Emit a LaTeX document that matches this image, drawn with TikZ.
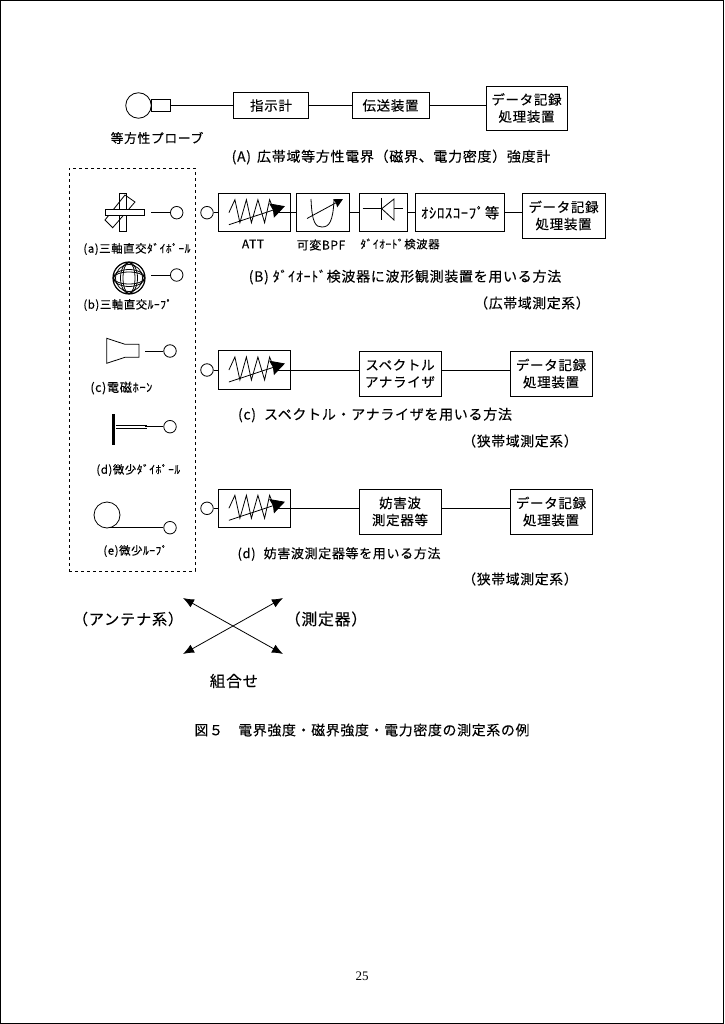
\documentclass[tikz,border=0pt]{standalone}
\usepackage{fontspec}
\setmainfont{Noto Sans CJK JP}[LetterSpace=5,FakeBold=0.15]
\newfontfamily\pagefont{Liberation Serif}
\usetikzlibrary{arrows.meta, positioning}

\begin{document}
\begin{tikzpicture}[
    x=1pt, y=-1pt,
    line width=0.8pt,
    blockbox/.style={rectangle, draw, inner sep=0pt, align=center, font=\fontsize{13.5}{17}\selectfont},
    port/.style={circle, draw, inner sep=0pt, minimum size=12.5pt},
    caption/.style={inner sep=0pt, font=\fontsize{14}{17}\selectfont},
    smalltext/.style={inner sep=0pt, font=\fontsize{11.4}{14}\selectfont},
    attsym/.pic={
        \draw (11,0) -- (17,-13) -- (22,10) -- (28.5,-13) -- (33.5,10) -- (40,-13) -- (46.7,10) -- (51.7,-13) -- (57,0);
        \draw[-{Stealth[length=14pt,width=15pt,inset=1.5pt]}] (11,12) -- (67,-6.5);
    }
 ]
\useasboundingbox (0,0) rectangle (724,1024);
\draw[line width=1pt] (0.5,0.5) rectangle (723.5,1023.5);

% isotropic probe
\node[circle, draw, inner sep=0pt, minimum size=25.5pt] (Probe) at (138.5,105.5) {};
\node[rectangle, draw, inner sep=0pt, minimum width=19.5pt, minimum height=12.5pt] (ProbeTip) at (161,105.5) {};
\node[blockbox, minimum width=75.5pt, minimum height=25.5pt] (Meter) at (271,105.5) {指示計};
\node[blockbox, minimum width=77pt, minimum height=25.5pt] (Trans) at (390.5,105.5) {伝送装置};
\node[blockbox, minimum width=81pt, minimum height=44pt] (DataA) at (526.5,108) {データ記録\\処理装置};
\draw (ProbeTip) -- (Meter);
\draw (Meter) -- (Trans);
\draw (Trans.east) -- (Trans.east -| DataA.west);
\node[caption, font=\fontsize{12.8}{15}\selectfont] (ProbeText) at (157,138) {等方性プローブ};
\node[caption] (TextA) at (391,157) {(A)\hspace{6pt}広帯域等方性電界（磁界、電力密度）強度計};

% antennas
\node[draw, dashed, inner sep=0pt, minimum width=126pt, minimum height=403pt] (AntBox) at (132,369.5) {};

\draw[fill=white] (105,220) -- (125,195) -- (135,202) -- (112.7,227.7) -- cycle;
\draw (119.3,193) rectangle (126,231.7);
\node[rectangle, draw, fill=white, inner sep=0pt, minimum width=38.3pt, minimum height=6.7pt] (DipH) at (124.8,212.3) {};
\coordinate (DipEnd) at (151,212.7);
\node[port] (PortA) at (176.7,212.7) {};
\draw (DipEnd) -- (PortA);
\node[smalltext, anchor=west] (LabelA) at (83,249) {(a)三軸直交ﾀﾞｲﾎﾟｰﾙ};

\node[circle, draw, line width=1.2pt, inner sep=0pt, minimum size=32pt] (Globe) at (129,278) {};
\draw (129,278) circle (13.5);
\foreach \r in {6,8.5} {
    \draw (129,278) ellipse ({\r} and 15.5);
    \draw (129,278) ellipse (15.5 and {\r});
}
\coordinate (GlobeEnd) at (151,275);
\node[port] (PortB) at (176.7,275) {};
\draw (GlobeEnd) -- (PortB);
\node[smalltext, anchor=west] (LabelB) at (83,305) {(b)三軸直交ﾙｰﾌﾟ};

\draw (106.7,338.3) -- (125,344.3) -- (139,344.3) -- (139,357.3) -- (125,357.3) -- (106.7,363.3) -- cycle;
\coordinate (HornEnd) at (145,351);
\node[port] (PortC) at (170,351) {};
\draw (HornEnd) -- (PortC);
\node[smalltext, anchor=west, font=\fontsize{12.3}{14}\selectfont] (LabelC) at (90,388) {(c)電磁ﾎｰﾝ};

\node[rectangle, fill=black, inner sep=0pt, minimum width=3.5pt, minimum height=31pt] (DipoleBar) at (113.5,429.5) {};
\coordinate (DipoleEnd) at (145,426.7);
\node[port] (PortD) at (170,426.7) {};
\draw (DipoleBar.east |- DipoleEnd) ++(0,-1.2) -- ++(31.5,0);
\draw (DipoleBar.east |- DipoleEnd) ++(0,1.2) -- ++(31.5,0);
\draw (DipoleEnd) -- (PortD);
\node[smalltext, anchor=west] (LabelD) at (96,470) {(d)微少ﾀﾞｲﾎﾟｰﾙ};

\node[circle, draw, inner sep=0pt, minimum size=26pt] (Loop) at (107,515) {};
\coordinate (LoopEnd) at (110,527.7);
\node[port] (PortE) at (170,527.7) {};
\draw (LoopEnd) -- (PortE);
\node[smalltext, anchor=west] (LabelE) at (103,551) {(e)微少ﾙｰﾌﾟ};

% row B
\node[port] (InB) at (207,212.7) {};
\node[blockbox, minimum width=72.4pt, minimum height=38.4pt] (AttB) at (254.5,212.7) {};
\node[blockbox, minimum width=52.7pt, minimum height=38.4pt] (Bpf) at (322.7,212.7) {};
\node[blockbox, minimum width=48.3pt, minimum height=38.4pt] (Det) at (383.2,212.7) {};
\node[blockbox, minimum width=89pt, minimum height=38.4pt, font=\fontsize{14.5}{17}\selectfont] (Scope) at (460.2,212.7) {ｵｼﾛｽｺｰﾌﾟ等};
\node[blockbox, minimum width=83pt, minimum height=45pt] (DataB) at (563.5,215.5) {データ記録\\処理装置};
\draw (InB) -- (AttB);
\pic at (AttB.west) {attsym};
\draw (AttB.east) ++(-15.7,0) -- (AttB.east);
\draw (AttB) -- (Bpf);
\draw (Bpf) -- (Det);
\draw (Det) -- (Scope);
\draw (Scope.east) -- (Scope.east -| DataB.west);
% band pass curve
\draw (311,199) .. controls (312,224) and (316,227) .. (322,227) .. controls (329,227) and (333,222) .. (334,200);
\draw[-{Stealth[length=9pt,width=9pt,inset=1pt]}] (307,218.5) -- (343,199);
% diode
\draw (Det.west) ++(4,-4) -- ++(40,0);
\draw[fill=white] (394,199) -- (394,220) -- (381.7,208.7) -- cycle;
\draw (381.7,198) -- (381.7,220);
\node[smalltext, font=\fontsize{12}{14}\selectfont] (AttLabel) at (253,244) {ATT};
\node[smalltext, font=\fontsize{12}{14}\selectfont] (BpfLabel) at (321,245) {可変BPF};
\node[smalltext] (DetLabel) at (400,244) {ﾀﾞｲｵｰﾄﾞ検波器};
\node[caption] (TextB) at (405,277) {(B)\hspace{4pt}ﾀﾞｲｵｰﾄﾞ検波器に波形観測装置を用いる方法};
\node[caption, font=\fontsize{13.8}{16}\selectfont] (RangeB) at (532,303) {（広帯域測定系）};

% row c
\node[port] (InC) at (207,370) {};
\node[blockbox, minimum width=72.4pt, minimum height=38.4pt] (AttC) at (254.5,370) {};
\node[blockbox, minimum width=82pt, minimum height=45pt] (Spec) at (400,373.5) {スペクトル\\アナライザ};
\node[blockbox, minimum width=82pt, minimum height=45pt] (DataC) at (551,373.5) {データ記録\\処理装置};
\draw (InC) -- (AttC);
\pic at (AttC.west) {attsym};
\draw (AttC.east) ++(-15.7,0) -- (AttC.east);
\draw (AttC.east) -- (AttC.east -| Spec.west);
\draw (Spec.east |- AttC.east) -- (AttC.east -| DataC.west);
\node[caption] (TextC) at (375,415) {(c)\hspace{8pt}スペクトル・アナライザを用いる方法};
\node[caption, font=\fontsize{13.8}{16}\selectfont] (RangeC) at (520,441) {（狭帯域測定系）};

% row d
\node[port] (InD) at (207,508.3) {};
\node[blockbox, minimum width=72.4pt, minimum height=38.4pt] (AttD) at (254.5,508.3) {};
\node[blockbox, minimum width=82pt, minimum height=45pt] (Emi) at (400,511.5) {妨害波\\測定器等};
\node[blockbox, minimum width=82pt, minimum height=45pt] (DataD) at (551,511.5) {データ記録\\処理装置};
\draw (InD) -- (AttD);
\pic at (AttD.west) {attsym};
\draw (AttD.east) ++(-15.7,0) -- (AttD.east);
\draw (AttD.east) -- (AttD.east -| Emi.west);
\draw (Emi.east |- AttD.east) -- (AttD.east -| DataD.west);
\node[caption, font=\fontsize{13}{15}\selectfont] (TextD) at (339,554) {(d)\hspace{8pt}妨害波測定器等を用いる方法};
\node[caption, font=\fontsize{13.8}{16}\selectfont] (RangeD) at (520,579) {（狭帯域測定系）};

% combination
\coordinate (CrossNW) at (183,598);
\coordinate (CrossNE) at (283,598);
\coordinate (CrossSW) at (183,654);
\coordinate (CrossSE) at (283,654);
\draw[{Latex[length=11pt,width=9pt]}-{Latex[length=11pt,width=9pt]}] (CrossNW) -- (CrossSE);
\draw[{Latex[length=11pt,width=9pt]}-{Latex[length=11pt,width=9pt]}] (CrossNE) -- (CrossSW);
\node[caption, font=\fontsize{15.2}{18}\selectfont] (AntText) at (128,619) {（アンテナ系）};
\node[caption, font=\fontsize{15.8}{18}\selectfont] (InstText) at (326,619) {（測定器）};
\node[caption, font=\fontsize{15.6}{18}\selectfont] (CombText) at (234,681) {組合せ};

\node[caption, font=\fontsize{13.9}{16}\selectfont] (FigText) at (362,730) {図５　電界強度・磁界強度・電力密度の測定系の例};
\node[inner sep=0pt, font=\pagefont\fontsize{13}{15}\selectfont] (PageNo) at (362,976) {25};

\end{tikzpicture}
\end{document}
